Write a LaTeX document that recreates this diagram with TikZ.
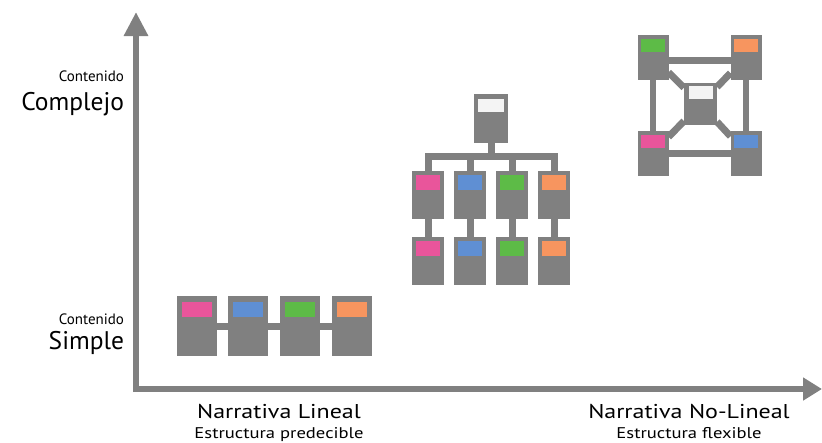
\documentclass[tikz,border=0pt]{standalone}
\usepackage{fontspec}
\setmainfont{PT Sans}
\usetikzlibrary{arrows.meta,backgrounds}
\definecolor{gr}{HTML}{808080}
\definecolor{cpink}{HTML}{E9559B}
\definecolor{cblue}{HTML}{5F8FD3}
\definecolor{cgreen}{HTML}{5DBB47}
\definecolor{corange}{HTML}{F7955F}
\definecolor{cwhite}{HTML}{F4F4F4}
\begin{document}
\begin{tikzpicture}[x=1pt,y=-1pt,
  every node/.style={inner sep=0pt, outer sep=0pt},
  gbox/.style={fill=gr, draw=none},
  lbox/.style={gbox, minimum width=40pt, minimum height=60pt},
  tbox/.style={gbox, minimum width=32pt, minimum height=48pt},
  nbox/.style={gbox, minimum width=31pt, minimum height=45pt},
  rbox/.style={gbox, minimum width=34pt, minimum height=49pt},
  cbox/.style={gbox, minimum width=33pt, minimum height=42pt},
  ltab/.style={fill=#1, minimum width=30pt, minimum height=15pt, anchor=north},
  ttab/.style={fill=#1, minimum width=24pt, minimum height=15pt, anchor=north},
  ntab/.style={fill=#1, minimum width=24pt, minimum height=13pt, anchor=north},
  conn/.style={draw=gr, line width=7pt},
  axis/.style={draw=gr, line width=6pt},
  small/.style={font=\fontsize{15}{15}\selectfont, anchor=base east},
  big/.style={font=\fontsize{25.5}{25.5}\selectfont, anchor=base east},
  title/.style={font=\fontsize{20}{20}\selectfont, anchor=base, xscale=1.2},
  sub/.style={font=\fontsize{15.5}{15.5}\selectfont, anchor=base, xscale=1.2}
]
\useasboundingbox (0,0) rectangle (822,442);

% axes
\coordinate (corner) at (136,392);
\coordinate (ytip) at (136,12);
\coordinate (xstart) at (133,389);
\coordinate (xtip) at (822,389);
\draw[axis, -{Triangle[length=24pt,width=23pt]}] (corner) -- (ytip);
\draw[axis, -{Triangle[length=19pt,width=22pt]}] (xstart) -- (xtip);

% axis labels
\node[small] (cc1) at (124,81) {Contenido};
\node[big] (ccx) at (124,110) {Complejo};
\node[small] (cc2) at (124,324) {Contenido};
\node[big] (ccs) at (124,349) {Simple};
\node[title] (nl) at (279,418) {Narrativa Lineal};
\node[sub] (ep) at (279,438) {Estructura predecible};
\node[title] (nnl) at (689,418) {Narrativa No-Lineal};
\node[sub] (ef) at (689,438) {Estructura flexible};

% linear structure
\node[lbox] (l1) at (197,326) {};
\node[lbox] (l2) at (248,326) {};
\node[lbox] (l3) at (299.5,326) {};
\node[lbox] (l4) at (351.5,326) {};
\node[ltab=cpink] at ([yshift=-6pt]l1.north) {};
\node[ltab=cblue] at ([yshift=-6pt]l2.north) {};
\node[ltab=cgreen] at ([yshift=-6pt]l3.north) {};
\node[ltab=corange] at ([yshift=-6pt]l4.north) {};

% tree structure
\node[rbox] (root) at (491,118.5) {};
\node[fill=cwhite, minimum width=26pt, minimum height=13pt, anchor=north] at ([yshift=-5pt]root.north) {};
\coordinate (bus) at (491,156);
\foreach \i/\x/\c in {1/428/cpink,2/470/cblue,3/512/cgreen,4/554/corange}{
  \node[tbox] (t\i) at (\x,195) {};
  \node[ttab=\c] at ([yshift=-4pt]t\i.north) {};
  \node[tbox] (u\i) at (\x,261) {};
  \node[ttab=\c] at ([yshift=-4pt]u\i.north) {};
}

% network structure
\node[nbox] (tl) at (653,57) {};
\node[nbox] (tr) at (746,57) {};
\node[nbox] (bl) at (653,153) {};
\node[nbox] (br) at (746,153) {};
\node[cbox] (cc) at (700.5,104) {};
\node[ntab=cgreen] at ([yshift=-4pt]tl.north) {};
\node[ntab=corange] at ([yshift=-4pt]tr.north) {};
\node[ntab=cpink] at ([yshift=-4pt]bl.north) {};
\node[ntab=cblue] at ([yshift=-4pt]br.north) {};
\node[fill=cwhite, minimum width=24pt, minimum height=13pt, anchor=north] at ([yshift=-3pt]cc.north) {};

\begin{scope}[on background layer]
  \draw[conn] (l1) -- (l2) -- (l3) -- (l4);
  \draw[conn] (root) -- (bus);
  \draw[conn, line join=miter] (t1.north) -- (t1.north |- bus) -- (t4.north |- bus) -- (t4.north);
  \draw[conn] (t2.north) -- (t2.north |- bus);
  \draw[conn] (t3.north) -- (t3.north |- bus);
  \foreach \i in {1,2,3,4}{ \draw[conn] (t\i) -- (u\i); }
  \draw[conn] ([yshift=-3pt]tl.center) -- ([yshift=-3pt]tr.center);
  \draw[conn] (bl) -- (br);
  \draw[conn, line width=6pt] (tl) -- (bl);
  \draw[conn, line width=6pt] (tr) -- (br);
  \draw[conn] (tl) -- (cc);
  \draw[conn] (tr) -- (cc);
  \draw[conn] (bl) -- (cc);
  \draw[conn] (br) -- (cc);
\end{scope}
\end{tikzpicture}
\end{document}
